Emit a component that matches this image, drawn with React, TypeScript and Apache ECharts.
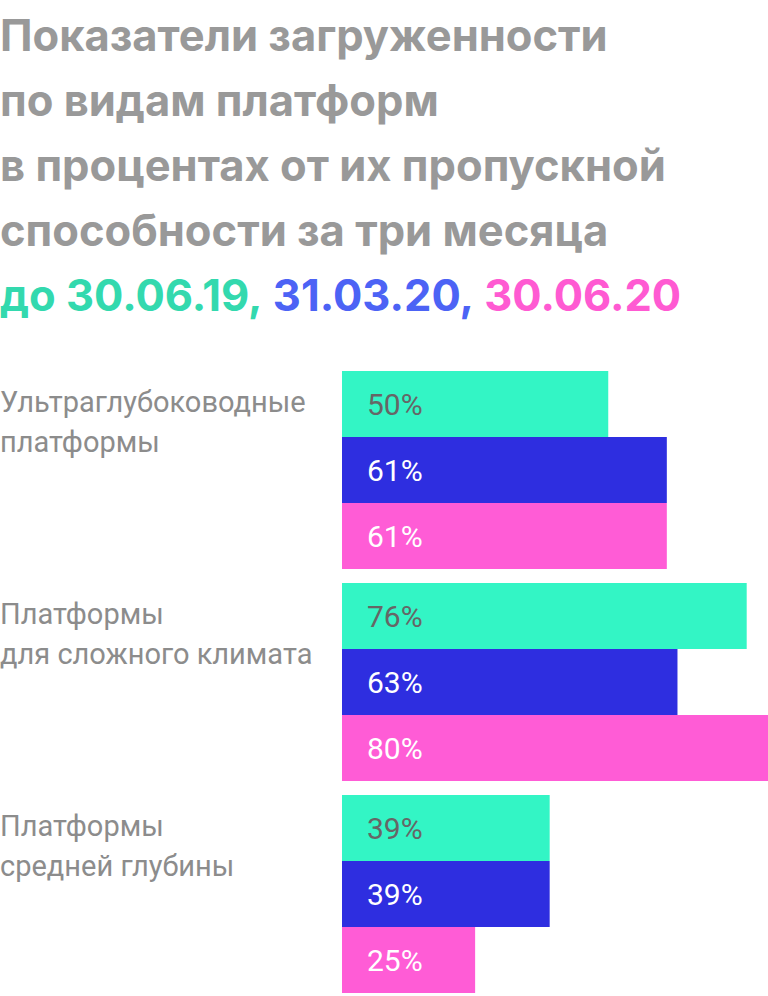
import React, { useEffect, useRef } from 'react';
import * as echarts from 'echarts';

const categories = [
  'Ультраглубоководные\nплатформы',
  'Платформы\nдля сложного климата',
  'Платформы\nсредней глубины'
];
const seriesNames = ['30.06.19', '31.03.20', '30.06.20'];
const values2019Jun = [50, 76, 39];
const values2020Mar = [61, 63, 39];
const values2020Jun = [61, 80, 25];

const barColors = ['#33f5c5', '#2e2ee0', '#ff5cd6'];
const labelColors = ['#666666', '#ffffff', '#ffffff'];

const titleFont = 'Inter';

const App: React.FC = () => {
  const chartRef = useRef<HTMLDivElement>(null);

  useEffect(() => {
    document.body.style.margin = '0';
    if (!chartRef.current) return;
    const chart = echarts.init(chartRef.current, null, { renderer: 'svg' });

    const allValues = [values2019Jun, values2020Mar, values2020Jun];
    const titleStyle = (color: string) => ({
      color,
      fontFamily: titleFont,
      fontWeight: 'bold',
      fontSize: 43.5,
      lineHeight: 65
    });

    const option: any = {
      animation: false,
      backgroundColor: '#ffffff',
      title: {
        left: 0,
        top: 2,
        padding: 0,
        text:
          '{g|Показатели загруженности}\n' +
          '{g|по видам платформ}\n' +
          '{g|в процентах от их пропускной}\n' +
          '{g|способности за три месяца}\n' +
          '{a|до 30.06.19, }{b|31.03.20, }{c|30.06.20}',
        textStyle: {
          ...titleStyle('#999999'),
          rich: {
            g: titleStyle('#999999'),
            a: titleStyle('#33d9ae'),
            b: titleStyle('#4c63f5'),
            c: titleStyle('#ff5ad2')
          }
        }
      },
      grid: {
        left: 342,
        right: 0,
        top: 364,
        bottom: -4,
        containLabel: false,
        outerBoundsMode: 'none'
      },
      xAxis: {
        type: 'value',
        min: 0,
        max: 80,
        show: false
      },
      yAxis: {
        type: 'category',
        inverse: true,
        data: categories,
        axisLine: { show: false },
        axisTick: { show: false },
        splitLine: { show: false },
        axisLabel: {
          align: 'left',
          verticalAlign: 'middle',
          margin: 342,
          formatter: (v: string) =>
            v.split('\n').map((s) => '{n|' + s + '}').join('\n') + '\n{s| }',
          rich: {
            n: {
              color: '#8c8c8c',
              fontFamily: 'Roboto',
              fontSize: 29,
              lineHeight: 40
            },
            s: { fontSize: 10, lineHeight: 96 }
          }
        }
      },
      series: seriesNames.map((name, i) => ({
        name,
        type: 'bar',
        data: allValues[i],
        barWidth: 66,
        barGap: '0%',
        itemStyle: { color: barColors[i] },
        label: {
          show: true,
          position: 'insideLeft',
          distance: 25,
          formatter: '{c}%',
          color: labelColors[i],
          fontFamily: 'Roboto',
          fontSize: 30
        }
      }))
    };

    chart.setOption(option);

    return () => {
      chart.dispose();
    };
  }, []);

  return <div ref={chartRef} style={{ width: 768, height: 996 }} />;
};

export default App;
